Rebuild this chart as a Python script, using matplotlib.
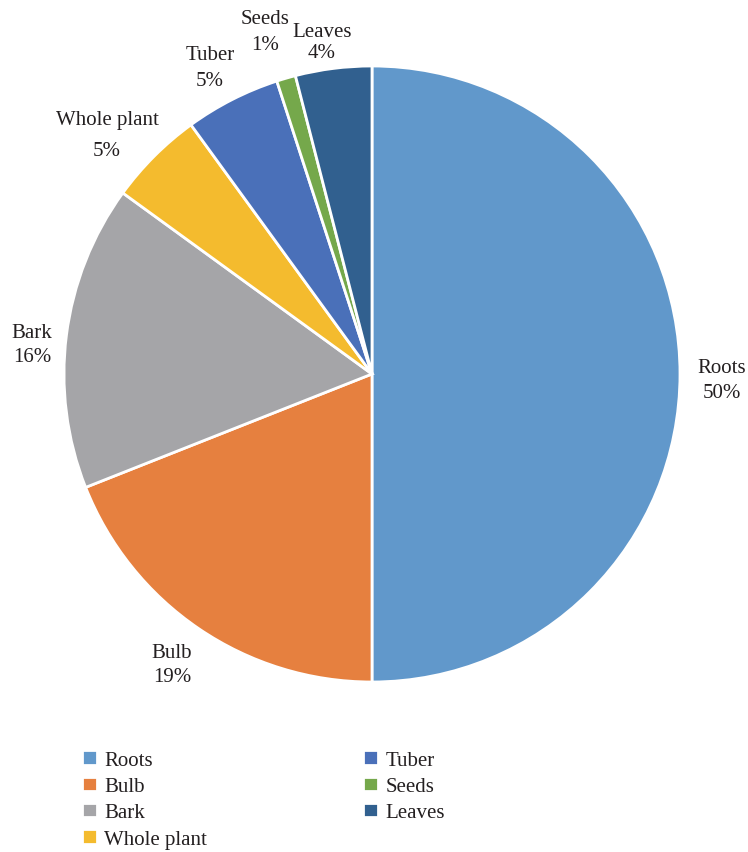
import matplotlib.pyplot as plt

parts = ["Roots", "Bulb", "Bark", "Whole plant", "Tuber", "Seeds", "Leaves"]
shares = [50, 19, 16, 5, 5, 1, 4]
colors = ["#6198cb", "#e6803f", "#a5a5a8", "#f4bb2e", "#4a70b9", "#75a84b", "#31608f"]

# label centres, in pie radius units, and spacing between name and percent
label_pos = [(1.136, -0.019), (-0.649, -0.942), (-1.104, 0.096), (-0.86, 0.776),
             (-0.526, 0.995), (-0.347, 1.112), (-0.162, 1.078)]
label_spacing = [1.47, 1.37, 1.32, 1.79, 1.53, 1.53, 1.21]

plt.rcParams['font.family'] = ['Liberation Serif', 'DejaVu Serif']

fig = plt.figure(figsize=(7.48, 8.53), dpi=100)
ax = fig.add_axes([64 / 748, 170 / 853, 616 / 748, 616 / 853])

wedges, _ = ax.pie(shares, colors=colors, startangle=90, counterclock=False,
                   radius=1, wedgeprops=dict(edgecolor="white", linewidth=2))
ax.set_xlim(-1, 1)
ax.set_ylim(-1, 1)
ax.set_aspect("equal")
ax.axis("off")

for name, val, (x, y), ls in zip(parts, shares, label_pos, label_spacing):
    ax.text(x, y, f"{name}\n{val}%", ha="center", va="center",
            fontsize=15, color="#231f20", linespacing=ls)

fig.legend(wedges, parts, ncol=2, loc="upper left",
           bbox_to_anchor=(74 / 748, 1 - 743 / 853), frameon=False,
           fontsize=15, handlelength=0.7, handleheight=0.7,
           handletextpad=0.35, columnspacing=7.5, labelspacing=0.32,
           borderaxespad=0, labelcolor="#231f20")

fig.savefig("out.png", dpi=100)
